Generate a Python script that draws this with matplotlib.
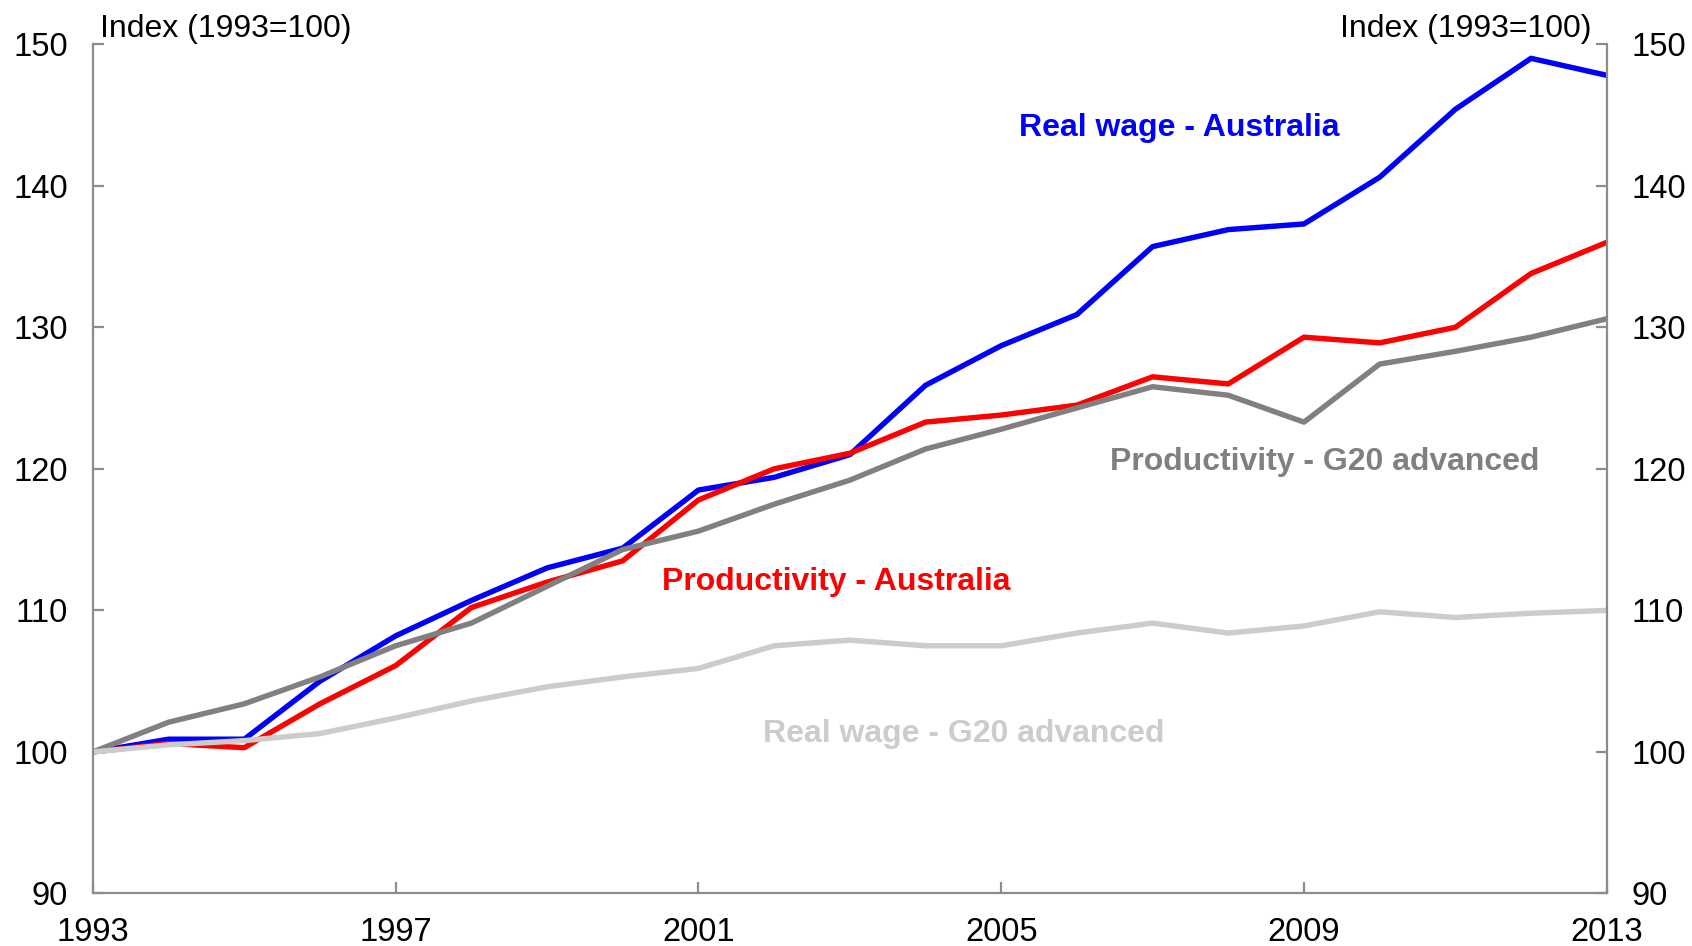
import matplotlib
matplotlib.use("Agg")
import matplotlib.pyplot as plt

plt.rcParams['font.family'] = ['Liberation Sans', 'DejaVu Sans']

years = list(range(1993, 2014))
real_wage_aus = [100.0, 100.9, 100.9, 105.0, 108.2, 110.7, 113.0, 114.4, 118.5,
                 119.4, 121.0, 125.9, 128.7, 130.9, 135.7, 136.9, 137.3, 140.6,
                 145.4, 149.0, 147.8]
prod_aus = [100.0, 100.6, 100.3, 103.4, 106.1, 110.2, 112.0, 113.5, 117.8,
            120.0, 121.1, 123.3, 123.8, 124.5, 126.5, 126.0, 129.3, 128.9,
            130.0, 133.8, 136.0]
prod_g20 = [100.0, 102.1, 103.4, 105.3, 107.5, 109.1, 111.7, 114.3, 115.6,
            117.5, 119.2, 121.4, 122.8, 124.3, 125.8, 125.2, 123.3, 127.4,
            128.3, 129.3, 130.6]
real_wage_g20 = [100.0, 100.5, 100.8, 101.3, 102.4, 103.6, 104.6, 105.3, 105.9,
                 107.5, 107.9, 107.5, 107.5, 108.4, 109.1, 108.4, 108.9, 109.9,
                 109.5, 109.8, 110.0]

x_ticks = [1993, 1997, 2001, 2005, 2009, 2013]
y_ticks = [90, 100, 110, 120, 130, 140, 150]

axis_grey = '#8c8c8c'

fig = plt.figure(figsize=(16.92, 9.46), dpi=100)
ax = fig.add_axes([0.0549, 0.0555, 0.8947, 0.8978])

# australia first, G20 series end up on top
ax.plot(years, real_wage_aus, color='#0000ff', lw=3.9)
ax.plot(years, prod_aus, color='#ff0000', lw=3.9)
ax.plot(years, prod_g20, color='#808080', lw=3.9)
ax.plot(years, real_wage_g20, color='#cccccc', lw=3.9)

ax.set_xlim(1993, 2013)
ax.set_ylim(90, 150)
ax.set_xticks(x_ticks)
ax.set_yticks(y_ticks)

for side in ['left', 'right', 'bottom']:
    ax.spines[side].set_color(axis_grey)
    ax.spines[side].set_linewidth(1.6)
ax.spines['top'].set_visible(False)

ax.tick_params(axis='both', direction='in', length=8, width=1.6,
               color=axis_grey, labelsize=23.5, labelcolor='black')
ax.tick_params(axis='y', pad=18, right=True, labelright=True)
ax.tick_params(axis='x', pad=17)

ax.text(0.005, 1.0, 'Index (1993=100)', transform=ax.transAxes, fontsize=23,
        ha='left', va='bottom')
ax.text(0.99, 1.0, 'Index (1993=100)', transform=ax.transAxes, fontsize=23,
        ha='right', va='bottom')

# series labels
ax.text(2007.35, 144.05, 'Real wage - Australia', color='#0000ff', fontsize=23,
        fontweight='bold', ha='center', va='center')
ax.text(2009.28, 120.5, 'Productivity - G20 advanced', color='#808080',
        fontsize=23, fontweight='bold', ha='center', va='center')
ax.text(2002.82, 112.0, 'Productivity - Australia', color='#ff0000',
        fontsize=23, fontweight='bold', ha='center', va='center')
ax.text(2004.5, 101.3, 'Real wage - G20 advanced', color='#cccccc',
        fontsize=23, fontweight='bold', ha='center', va='center')

fig.savefig('out.png', dpi=100)
